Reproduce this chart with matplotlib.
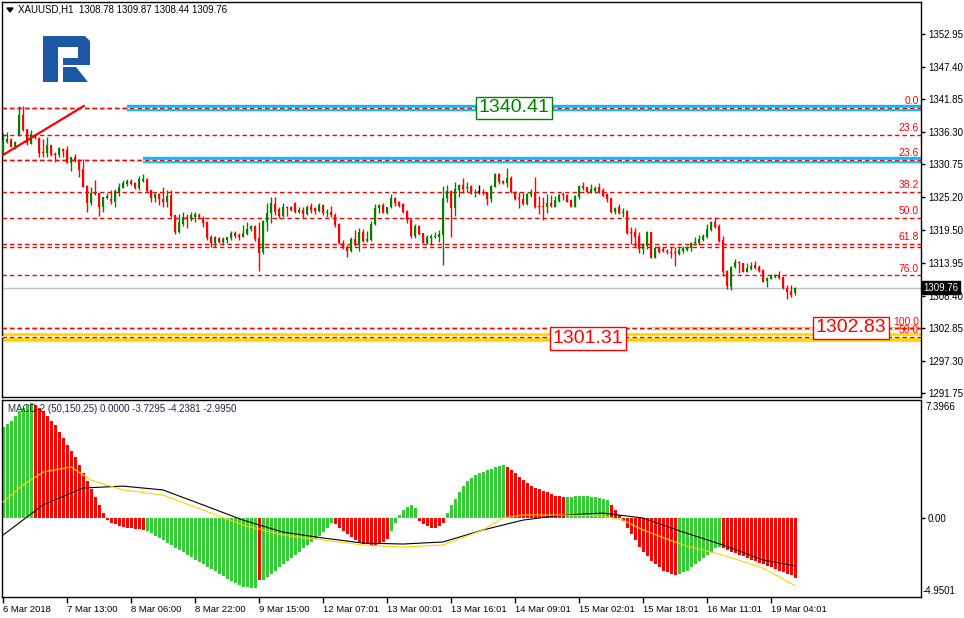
import numpy as np
import matplotlib
matplotlib.use("Agg")
import matplotlib.pyplot as plt
from matplotlib.patches import Polygon

plt.rcParams['font.family'] = ['Liberation Sans', 'DejaVu Sans']
plt.rcParams['lines.scale_dashes'] = False

# XAUUSD H1 candles
opens = [1332.64, 1334.57, 1335.08, 1333.66, 1335.77, 1339.17, 1336.73, 1334.23, 1335.77, 1335.20,
         1332.87, 1332.76, 1334.06, 1332.53, 1332.36, 1333.38, 1333.21, 1331.05, 1331.96, 1331.39,
         1329.97, 1327.08, 1324.24, 1325.94, 1325.94, 1323.55, 1325.09, 1324.80, 1324.41, 1326.11,
         1326.79, 1327.42, 1327.98, 1327.53, 1326.68, 1327.98, 1328.27, 1326.40, 1325.09, 1325.71,
         1324.86, 1324.41, 1325.54, 1322.13, 1319.29, 1320.60, 1321.74, 1321.51, 1321.85, 1322.19,
         1321.57, 1321.00, 1318.45, 1317.31, 1318.28, 1317.59, 1317.88, 1318.22, 1319.13, 1318.73,
         1318.45, 1318.90, 1319.70, 1320.26, 1318.16, 1315.89, 1321.00, 1322.42, 1324.01, 1323.10,
         1322.03, 1323.56, 1323.56, 1324.24, 1322.71, 1322.99, 1322.31, 1323.67, 1323.27, 1322.88,
         1323.84, 1322.42, 1322.71, 1322.14, 1320.60, 1317.31, 1316.63, 1316.06, 1318.05, 1317.03,
         1319.30, 1317.76, 1317.88, 1320.55, 1323.27, 1323.84, 1322.42, 1323.44, 1325.03, 1324.41,
         1324.01, 1322.82, 1321.29, 1318.56, 1320.26, 1319.01, 1317.42, 1318.28, 1318.33, 1318.45,
         1318.73, 1324.98, 1326.23, 1323.27, 1326.40, 1327.25, 1326.68, 1327.14, 1325.83, 1326.00,
         1326.11, 1326.11, 1324.81, 1326.97, 1329.12, 1327.99, 1327.53, 1328.50, 1326.00, 1325.03,
         1324.86, 1324.01, 1325.55, 1326.06, 1323.67, 1323.67, 1323.56, 1324.24, 1323.56, 1324.58,
         1325.66, 1325.55, 1324.69, 1323.56, 1325.26, 1327.14, 1326.85, 1326.11, 1326.23, 1326.97,
         1326.39, 1325.65, 1324.97, 1322.70, 1323.44, 1322.53, 1322.81, 1319.29, 1319.29, 1318.55,
         1316.34, 1316.85, 1319.24, 1314.86, 1316.62, 1316.34, 1316.05, 1315.83, 1315.71, 1315.49,
         1316.00, 1316.17, 1316.45, 1317.30, 1317.30, 1317.87, 1318.44, 1319.58, 1320.99, 1320.31,
         1317.87, 1312.59, 1309.92, 1313.33, 1314.18, 1313.90, 1312.48, 1312.93, 1313.61, 1313.33,
         1312.76, 1310.89, 1311.23, 1311.62, 1311.91, 1311.62, 1309.64, 1309.18, 1308.78]
highs = [1336.05, 1336.22, 1335.31, 1334.80, 1340.71, 1340.71, 1336.73, 1336.62, 1335.88, 1335.37,
         1335.03, 1335.37, 1334.06, 1332.93, 1333.66, 1333.61, 1333.89, 1332.07, 1332.53, 1331.62,
         1331.62, 1327.25, 1326.85, 1328.10, 1325.94, 1325.26, 1325.83, 1326.40, 1326.51, 1327.53,
         1328.10, 1328.21, 1328.21, 1327.81, 1328.78, 1329.12, 1328.38, 1326.40, 1325.94, 1325.94,
         1326.85, 1326.40, 1326.40, 1322.13, 1322.30, 1322.59, 1322.30, 1322.59, 1322.59, 1322.42,
         1321.97, 1321.12, 1318.73, 1318.56, 1318.45, 1318.33, 1318.45, 1319.47, 1319.47, 1319.01,
         1320.43, 1321.00, 1320.43, 1320.43, 1321.00, 1321.29, 1324.13, 1325.15, 1325.15, 1323.56,
         1324.13, 1323.67, 1323.67, 1324.41, 1323.44, 1323.56, 1323.84, 1324.13, 1323.44, 1324.13,
         1324.01, 1323.10, 1323.67, 1322.54, 1320.72, 1317.88, 1317.03, 1318.45, 1319.58, 1319.87,
         1319.70, 1319.47, 1321.17, 1324.01, 1323.96, 1324.13, 1323.56, 1325.72, 1325.15, 1324.58,
         1324.24, 1322.99, 1321.57, 1320.60, 1320.43, 1319.13, 1318.73, 1318.90, 1319.30, 1319.58,
         1327.08, 1327.25, 1326.40, 1327.82, 1327.42, 1328.39, 1327.82, 1327.25, 1326.51, 1327.25,
         1326.51, 1326.11, 1327.25, 1329.24, 1329.24, 1328.10, 1330.09, 1328.78, 1326.28, 1326.00,
         1325.94, 1325.94, 1326.51, 1328.56, 1325.38, 1325.26, 1325.72, 1325.55, 1325.38, 1325.83,
         1326.00, 1325.66, 1324.81, 1325.49, 1327.25, 1327.70, 1326.97, 1327.42, 1327.08, 1327.53,
         1326.68, 1325.82, 1325.09, 1323.44, 1324.01, 1323.27, 1322.98, 1320.14, 1319.86, 1319.24,
         1317.42, 1319.46, 1319.24, 1316.85, 1316.85, 1316.62, 1316.34, 1316.62, 1316.74, 1316.85,
         1316.91, 1316.91, 1317.47, 1318.44, 1318.72, 1318.89, 1320.60, 1321.11, 1321.85, 1320.54,
         1318.55, 1312.76, 1313.44, 1314.58, 1314.35, 1314.01, 1313.90, 1314.18, 1314.35, 1313.61,
         1312.87, 1311.62, 1312.08, 1312.08, 1312.65, 1311.74, 1310.20, 1310.20, 1309.87]
lows = [1332.36, 1334.46, 1333.66, 1333.44, 1335.65, 1336.50, 1334.06, 1334.18, 1335.03, 1332.07,
        1332.07, 1332.07, 1332.19, 1331.22, 1331.96, 1332.07, 1330.94, 1329.69, 1331.16, 1328.67,
        1326.85, 1322.70, 1323.84, 1325.54, 1322.02, 1322.70, 1324.80, 1324.01, 1323.55, 1325.43,
        1326.68, 1327.08, 1327.19, 1326.56, 1326.40, 1327.81, 1326.11, 1324.41, 1324.41, 1323.84,
        1323.55, 1323.55, 1321.85, 1318.90, 1319.12, 1320.26, 1319.98, 1321.17, 1321.00, 1321.51,
        1320.15, 1317.88, 1316.74, 1316.63, 1317.42, 1317.03, 1317.31, 1317.88, 1318.16, 1317.88,
        1318.33, 1318.73, 1319.41, 1317.71, 1312.65, 1315.49, 1319.47, 1320.83, 1322.14, 1321.57,
        1321.85, 1321.97, 1322.88, 1322.54, 1322.42, 1321.57, 1322.14, 1322.54, 1322.25, 1322.71,
        1322.14, 1321.85, 1321.74, 1320.04, 1317.14, 1316.29, 1315.04, 1315.90, 1316.86, 1316.06,
        1317.59, 1317.59, 1317.76, 1320.43, 1322.54, 1322.42, 1322.31, 1323.33, 1323.67, 1323.56,
        1322.54, 1320.72, 1318.28, 1318.28, 1318.73, 1317.31, 1317.20, 1317.03, 1318.16, 1317.59,
        1313.62, 1324.41, 1318.45, 1321.97, 1325.26, 1325.83, 1326.11, 1325.66, 1325.26, 1325.72,
        1325.55, 1323.84, 1324.41, 1326.85, 1327.42, 1327.42, 1326.97, 1325.83, 1324.69, 1323.39,
        1323.84, 1323.84, 1325.26, 1323.27, 1322.25, 1321.29, 1322.54, 1323.56, 1323.44, 1324.41,
        1324.69, 1324.30, 1323.56, 1323.56, 1324.86, 1326.40, 1325.94, 1325.94, 1325.94, 1325.83,
        1325.14, 1324.29, 1322.53, 1322.25, 1322.25, 1321.85, 1318.89, 1317.19, 1316.62, 1315.60,
        1315.43, 1316.28, 1314.86, 1314.80, 1315.60, 1315.88, 1315.49, 1314.75, 1313.50, 1315.32,
        1315.71, 1316.00, 1316.05, 1317.02, 1317.02, 1317.64, 1318.16, 1319.46, 1319.97, 1317.59,
        1311.74, 1309.52, 1309.35, 1313.04, 1312.19, 1312.36, 1312.36, 1312.76, 1312.87, 1312.48,
        1310.72, 1309.92, 1311.17, 1311.34, 1311.17, 1309.52, 1307.76, 1308.22, 1308.44]
closes = [1334.80, 1335.03, 1333.78, 1334.57, 1339.17, 1336.62, 1334.35, 1335.88, 1335.20, 1332.76,
          1332.76, 1334.06, 1332.36, 1332.36, 1333.49, 1333.10, 1331.05, 1331.96, 1331.39, 1329.80,
          1326.96, 1324.24, 1325.83, 1325.71, 1323.55, 1325.14, 1325.43, 1324.52, 1326.17, 1326.85,
          1327.53, 1327.93, 1327.42, 1326.68, 1328.21, 1328.27, 1326.28, 1325.09, 1325.71, 1324.86,
          1324.41, 1325.43, 1321.96, 1319.29, 1320.89, 1321.74, 1321.57, 1322.08, 1322.30, 1321.74,
          1320.83, 1318.16, 1317.31, 1318.33, 1317.59, 1318.05, 1318.33, 1319.13, 1318.56, 1318.33,
          1319.01, 1319.75, 1320.26, 1317.99, 1315.72, 1321.12, 1322.42, 1324.24, 1322.71, 1322.03,
          1323.44, 1323.39, 1322.99, 1322.71, 1322.99, 1322.31, 1323.56, 1322.99, 1322.88, 1323.84,
          1322.42, 1322.71, 1322.14, 1320.43, 1317.31, 1316.63, 1316.06, 1318.05, 1317.03, 1319.30,
          1317.76, 1318.05, 1320.55, 1323.27, 1323.84, 1322.54, 1323.44, 1325.03, 1324.13, 1323.67,
          1322.71, 1321.29, 1318.56, 1320.26, 1318.90, 1317.42, 1318.33, 1318.56, 1318.56, 1318.90,
          1324.98, 1326.23, 1323.27, 1326.51, 1327.25, 1326.51, 1326.97, 1325.72, 1326.11, 1326.00,
          1325.83, 1324.81, 1327.08, 1329.12, 1327.82, 1327.53, 1328.39, 1326.00, 1324.81, 1324.92,
          1324.01, 1325.72, 1326.06, 1323.44, 1323.56, 1323.56, 1324.24, 1323.67, 1324.69, 1325.55,
          1325.49, 1324.41, 1323.56, 1325.38, 1327.14, 1326.68, 1326.00, 1326.51, 1326.68, 1326.00,
          1325.37, 1324.86, 1322.70, 1323.32, 1322.42, 1322.70, 1319.12, 1319.12, 1318.44, 1316.34,
          1317.02, 1319.29, 1314.86, 1316.57, 1315.77, 1316.00, 1315.77, 1315.71, 1315.60, 1316.17,
          1316.45, 1316.62, 1317.30, 1317.42, 1318.04, 1318.61, 1319.75, 1320.99, 1320.14, 1317.70,
          1312.48, 1310.03, 1313.33, 1314.18, 1313.90, 1312.48, 1313.16, 1313.44, 1313.04, 1312.65,
          1310.77, 1311.45, 1311.79, 1311.91, 1311.34, 1309.64, 1309.07, 1308.50, 1309.76]

# MACD-2 histogram, one value per bar, and colour runs
macd_hist = [5.7, 5.9, 6.1, 6.4, 6.7, 6.9, 7.1, 7.2,
             7.1, 6.9, 6.7, 6.4, 6.1, 5.8, 5.4, 5.0, 4.6, 4.2, 3.8, 3.3, 2.8, 2.3, 1.8, 1.3, 0.8,
             0.3, -0.1, -0.3, -0.4, -0.5, -0.55, -0.6, -0.65, -0.7, -0.7, -0.75,
             -0.8, -0.95, -1.1, -1.25, -1.4, -1.55, -1.7, -1.85, -2.0, -2.15, -2.3, -2.45, -2.6, -2.75,
             -2.9, -3.05, -3.2, -3.35, -3.5, -3.65, -3.8, -3.95, -4.1, -4.2, -4.3, -4.35, -4.4, -4.4,
             -3.9,
             -3.9, -3.7, -3.5, -3.3, -3.1, -2.9, -2.7, -2.5, -2.3, -2.1, -1.9, -1.7, -1.5, -1.3, -1.1,
             -0.9, -0.6, -0.3,
             -0.4, -0.6, -0.8, -1.0, -1.2, -1.4, -1.5, -1.6, -1.65, -1.7, -1.7, -1.6, -1.5, -1.3,
             -0.8, -0.3, 0.2, 0.5, 0.7, 0.8, 0.6,
             -0.2, -0.4, -0.5, -0.6, -0.6, -0.5, -0.3,
             0.3, 0.8, 1.2, 1.6, 2.0, 2.3, 2.5, 2.7, 2.8, 2.9, 3.0, 3.1, 3.2, 3.25, 3.3,
             3.2, 3.0, 2.8, 2.6, 2.4, 2.2, 2.0, 1.9, 1.8, 1.7, 1.6, 1.5, 1.4, 1.35, 1.3,
             1.3, 1.3, 1.35, 1.35, 1.35, 1.35, 1.3, 1.3, 1.25, 1.2, 1.1,
             0.8, 0.5, 0.2, -0.2, -0.6, -1.0, -1.4, -1.8, -2.1, -2.4, -2.7, -2.9, -3.1, -3.3, -3.4,
             -3.5, -3.55,
             -3.5, -3.4, -3.3, -3.1, -2.9, -2.7, -2.5, -2.3, -2.1, -1.9, -1.8,
             -1.9, -2.0, -2.1, -2.2, -2.3, -2.4, -2.5, -2.6, -2.7, -2.8, -2.9, -3.0, -3.1, -3.2, -3.3,
             -3.4, -3.5, -3.6, -3.73]
hist_runs = [8, 28, 28, 1, 18, 14, 7, 7, 15, 15, 11, 17, 11, 19]
hist_run_up = [1, 0, 1, 0, 1, 0, 1, 0, 1, 0, 1, 0, 1, 0]

black_x = [0, 10, 20, 30, 40, 50, 60, 70, 80, 90, 100, 110, 120, 130, 140, 150, 160, 170, 180, 190, 198]
black_y = [-1.07, 0.82, 1.88, 2.0, 1.76, 0.82, -0.13, -0.88, -1.25, -1.57, -1.63, -1.5, -0.75, -0.13,
           0.19, 0.31, 0.0, -0.88, -1.69, -2.63, -2.995]
gold_x = [0, 5, 10, 17, 22, 30, 40, 50, 60, 70, 80, 90, 100, 110, 120, 125, 130, 140, 150, 155, 160,
          170, 180, 190, 198]
gold_y = [1.0, 2.07, 2.88, 3.2, 2.38, 1.76, 1.44, 0.5, -0.44, -1.07, -1.38, -1.69, -1.82, -1.69, -0.75,
          0.0, 0.19, 0.19, 0.13, -0.13, -0.75, -1.69, -2.32, -3.13, -4.238]

fib_levels = [1340.41, 1335.77, 1331.54, 1326.05, 1321.62, 1317.19, 1316.68, 1311.85, 1302.83, 1301.31]
fib_names = ["0.0", "23.6", "23.6", "38.2", "50.0", "61.8", "", "76.0", "100.0", "50.0"]

price_ticks = [1352.95, 1347.40, 1341.85, 1336.30, 1330.75, 1325.20, 1319.50, 1313.95, 1308.40,
               1302.85, 1297.30, 1291.75]
time_labels = ["6 Mar 2018", "7 Mar 13:00", "8 Mar 06:00", "8 Mar 22:00", "9 Mar 15:00",
               "12 Mar 07:01", "13 Mar 00:01", "13 Mar 16:01", "14 Mar 09:01", "15 Mar 02:01",
               "15 Mar 18:01", "16 Mar 11:01", "19 Mar 04:01"]
time_pos = [0, 16, 32, 48, 64, 80, 96, 112, 128, 144, 160, 176, 192]

trend_x = [0, 20.2]
trend_y = [1332.36, 1340.71]
last_price = 1309.76

W, H = 964, 618


def box(x0, y0, x1, y1):
    return [x0 / W, 1 - y1 / H, (x1 - x0) / W, (y1 - y0) / H]


def fpt(x, y):
    return (x / W, 1 - y / H)


fig = plt.figure(figsize=(9.64, 6.18), dpi=100)
ax = fig.add_axes(box(2, 2, 921, 397))
mx = fig.add_axes(box(2, 400, 921, 597))

n = len(closes)
idx = np.arange(n)
o = np.array(opens)
c = np.array(closes)
col = np.where(c > o, '#008000', np.where(c < o, '#ff0000', '#000000'))

# levels and objects
for lv in fib_levels:
    ax.axhline(lv, color='#ff0000', lw=1, dashes=(3.2, 2.2), zorder=2)
ax.axhline(last_price, color='#c0c0c0', lw=1, zorder=1)

ax.hlines(1340.41, 31, 240, color='#00bfff', lw=4.6, zorder=2.5)
ax.hlines(1340.41, 31, 240, color='white', lw=1.0, zorder=2.6)
ax.hlines(1331.54, 35, 240, color='#00bfff', lw=4.6, zorder=2.5)
ax.hlines(1331.54, 35, 240, color='white', lw=1.0, zorder=2.6)
ax.hlines(1302.83, 162, 240, color='#ffd700', lw=2.4, zorder=2.5)
ax.hlines(1302.83, 162, 240, color='white', lw=0.7, zorder=2.6)
ax.hlines(1301.31, -1, 240, color='#ffd700', lw=6.2, zorder=2.5)
ax.hlines(1301.31, -1, 240, color='white', lw=1.6, zorder=2.6)
for lv in [1340.41, 1331.54, 1302.83, 1301.31]:
    ax.axhline(lv, color='#ff0000', lw=1, dashes=(3.2, 2.2), zorder=2.7)

ax.plot(trend_x, trend_y, color='#ff0000', lw=1.6, zorder=4)

# candles
ax.vlines(idx, lows, highs, colors=col, lw=1, zorder=3)
body_lo = np.minimum(o, c)
body_h = np.maximum(np.abs(c - o), 0.17)
ax.bar(idx, body_h, bottom=body_lo, width=0.72, color=col, linewidth=0, zorder=3)

for lv, nm in zip(fib_levels, fib_names):
    if nm:
        ax.text(229.0, lv + 0.3, nm, color='#ff0000', fontsize=7.5, ha='right', va='bottom', zorder=5)

ax.text(127.75, 1340.41, "1340.41", color='#008000', fontsize=14, ha='center', va='center', zorder=6,
        bbox=dict(boxstyle='square,pad=0.14', fc='white', ec='#008000', lw=1))
ax.text(146.3, 1301.1, "1301.31", color='#ff0000', fontsize=14, ha='center', va='center', zorder=6,
        bbox=dict(boxstyle='square,pad=0.14', fc='white', ec='#ff0000', lw=1))
ax.text(212.0, 1302.9, "1302.83", color='#ff0000', fontsize=14, ha='center', va='center', zorder=6,
        bbox=dict(boxstyle='square,pad=0.14', fc='white', ec='#ff0000', lw=1))

ax.set_xlim(-0.25, 229.5)
ax.set_ylim(1291.12, 1358.43)
ax.set_xticks([])
ax.yaxis.tick_right()
ax.set_yticks(price_ticks)
ax.set_yticklabels(["%.2f" % v for v in price_ticks], fontsize=7)
ax.tick_params(axis='y', length=3, width=1, pad=2, colors='black')
ax.text(1.003, last_price, "%.2f" % last_price, transform=ax.get_yaxis_transform(), ha='left', va='center',
        color='white', fontsize=7, zorder=7, clip_on=False,
        bbox=dict(boxstyle='square,pad=0.15', fc='black', ec='black'))

# MACD panel
hist_colors = []
for run, up in zip(hist_runs, hist_run_up):
    hist_colors += ['#32cd32' if up else '#ff0000'] * run
mx.bar(idx, macd_hist, width=0.75, color=hist_colors, linewidth=0, zorder=2)
mx.plot(black_x, black_y, color='black', lw=0.8, zorder=3)
mx.plot(gold_x, gold_y, color='#ffd200', lw=0.8, zorder=3)
mx.set_xlim(-0.25, 229.5)
mx.set_ylim(-4.9501, 7.3966)
mx.yaxis.tick_right()
mx.set_yticks([0])
mx.set_yticklabels(["0.00"], fontsize=7)
mx.tick_params(axis='y', length=3, width=1, pad=2)
mx.set_xticks(time_pos)
mx.set_xticklabels(time_labels, fontsize=6.8, ha='left')
mx.tick_params(axis='x', length=4, width=1, pad=2)
fig.text(925 / W, 1 - 407 / H, "7.3966", fontsize=7, va='center')
fig.text(923 / W, 1 - 591 / H, "-4.9501", fontsize=7, va='center')
mx.text(0.006, 0.955, "MACD-2 (50,150,25) 0.0000 -3.7295 -4.2381 -2.9950", transform=mx.transAxes,
        fontsize=7, color='#1e2a44', va='center', zorder=6)

for a in (ax, mx):
    for s in a.spines.values():
        s.set_linewidth(1)

# header and logo
fig.text(18 / W, 1 - 10 / H, "XAUUSD,H1  1308.78 1309.87 1308.44 1309.76", fontsize=7, va='center')
fig.add_artist(Polygon([fpt(7, 8), fpt(13, 8), fpt(10, 12)], closed=True, color='black',
                       transform=fig.transFigure))
logo = '#1d58a5'
shapes = [
    [(43, 36), (58, 36), (58, 82), (43, 82)],
    [(58, 36), (85, 36), (90, 41), (90, 47), (58, 47)],
    [(78, 47), (90, 47), (90, 60), (78, 60)],
    [(63, 58), (90, 58), (90, 65), (63, 65)],
    [(63, 67), (76, 67), (88, 82), (63, 82)],
]
for sh in shapes:
    fig.add_artist(Polygon([fpt(x, y) for x, y in sh], closed=True, color=logo, lw=0,
                           transform=fig.transFigure))

fig.savefig("out.png", dpi=100)
